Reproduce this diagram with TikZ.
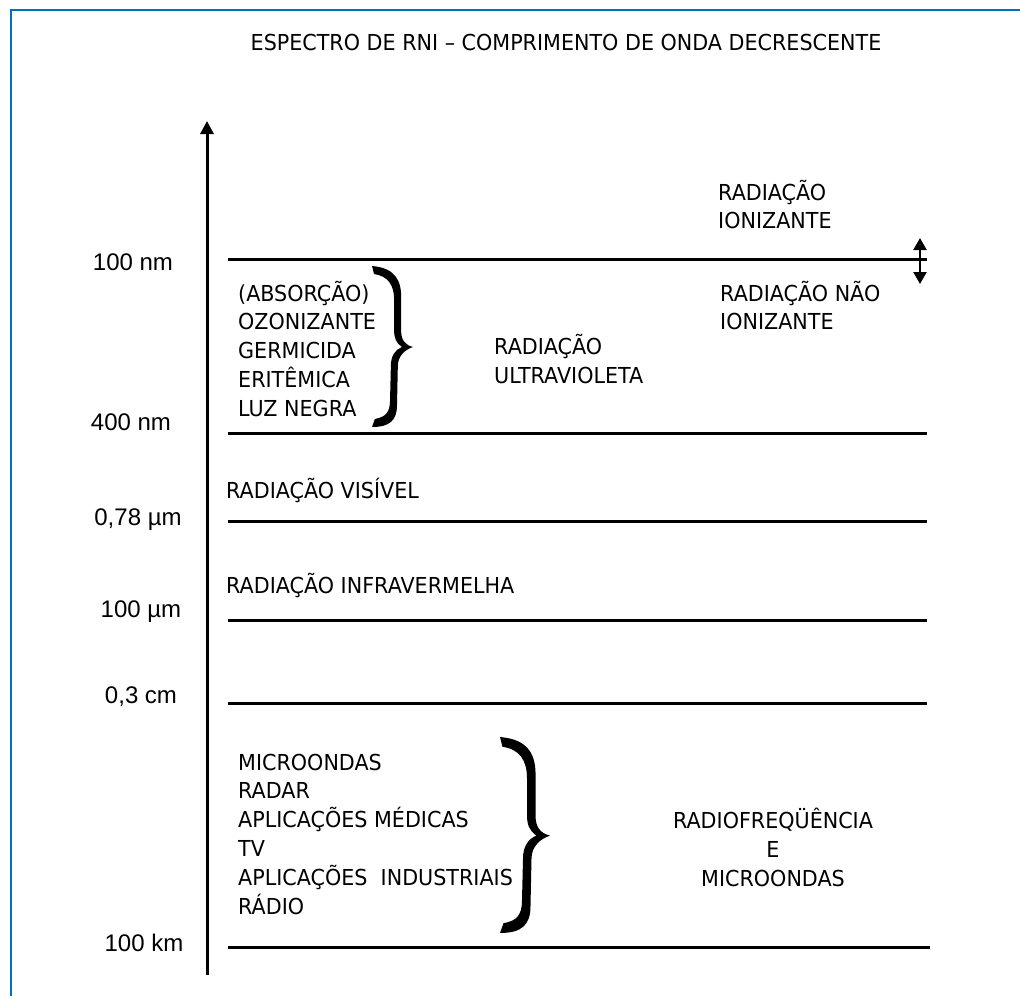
\documentclass[tikz,border=0pt]{standalone}
\usepackage{fontspec}
\setmainfont{DejaVu Sans}[FakeStretch=0.94]
\newfontfamily\numfont{Liberation Sans}
\usetikzlibrary{arrows.meta}
\definecolor{frameblue}{RGB}{0,112,192}
\newcommand{\bracepath}{%
  (0,0) .. controls (0.56,0.012) and (0.73,0.087) .. (0.71,0.211)
  -- (0.71,0.398)
  .. controls (0.71,0.46) and (0.80,0.49) .. (1.0,0.503)
  .. controls (0.80,0.52) and (0.63,0.56) .. (0.63,0.62)
  -- (0.61,0.863)
  .. controls (0.61,0.957) and (0.44,1.0) .. (0,1.0)
  -- (0.07,0.95)
  .. controls (0.34,0.938) and (0.44,0.907) .. (0.44,0.832)
  -- (0.46,0.62)
  .. controls (0.46,0.56) and (0.56,0.52) .. (0.73,0.503)
  .. controls (0.585,0.478) and (0.54,0.447) .. (0.54,0.398)
  -- (0.54,0.211)
  .. controls (0.54,0.118) and (0.39,0.062) .. (0.05,0.05)
  -- cycle}
\begin{document}
\begin{tikzpicture}[x=1pt,y=-1pt,
  lbl/.style={font=\fontsize{22}{29}\selectfont, anchor=base west, inner sep=0pt},
  lblc/.style={font=\fontsize{22}{29}\selectfont, anchor=base, inner sep=0pt},
  num/.style={font=\numfont\fontsize{24}{28}\selectfont, anchor=base, inner sep=0pt},
  band/.style={line width=3pt, black},
  axisline/.style={line width=3pt, -{Triangle[length=13pt,width=13pt]}},
  dbl/.style={line width=2.2pt, {Triangle[length=12pt,width=13pt]}-{Triangle[length=12pt,width=13pt]}},
  frame/.style={line width=2.5pt, frameblue},
  bracefill/.style={fill=black, draw=none}]
\useasboundingbox (0,0) rectangle (1020,996);
\fill[white] (0,0) rectangle (1020,996);
% frame
\coordinate (fb) at (11,996);
\coordinate (fc) at (11,10);
\coordinate (fr) at (1020,10);
\draw[frame] (fb) -- (fc) -- (fr);
% title
\node[lblc] (title) at (566,50) {ESPECTRO DE RNI – COMPRIMENTO DE ONDA DECRESCENTE};
% axis
\coordinate (axb) at (207,975);
\coordinate (axt) at (207,121);
\draw[axisline] (axb) -- (axt);
% horizontal lines
\coordinate (h1a) at (228,259); \coordinate (h1b) at (927,259);
\coordinate (h2a) at (228,433); \coordinate (h2b) at (927,433);
\coordinate (h3a) at (228,521); \coordinate (h3b) at (927,521);
\coordinate (h4a) at (228,620); \coordinate (h4b) at (927,620);
\coordinate (h5a) at (228,703); \coordinate (h5b) at (927,703);
\coordinate (h6a) at (228,947); \coordinate (h6b) at (930,947);
\draw[band] (h1a) -- (h1b);
\draw[band] (h2a) -- (h2b);
\draw[band] (h3a) -- (h3b);
\draw[band] (h4a) -- (h4b);
\draw[band] (h5a) -- (h5b);
\draw[band] (h6a) -- (h6b);
% double arrow
\coordinate (da) at (920,238);
\coordinate (db) at (920,284);
\draw[dbl] (da) -- (db);
% numbers
\node[num] (n1) at (133,270) {100 nm};
\node[num] (n2) at (131,430) {400 nm};
\node[num] (n3) at (138,525) {0,78 µm};
\node[num] (n4) at (141,617) {100 µm};
\node[num] (n5) at (141,703) {0,3 cm};
\node[num] (n6) at (144,951) {100 km};
% ionizante
\node[lbl] (ion1) at (718,200) {RADIAÇÃO};
\node[lbl] (ion2) at (718,228) {IONIZANTE};
\node[lbl] (nion1) at (720,301) {RADIAÇÃO NÃO};
\node[lbl] (nion2) at (720,329) {IONIZANTE};
% UV list
\node[lbl] (uv1) at (238,301) {(ABSORÇÃO)};
\node[lbl] (uv2) at (238,329) {OZONIZANTE};
\node[lbl] (uv3) at (238,358) {GERMICIDA};
\node[lbl] (uv4) at (238,387) {ERITÊMICA};
\node[lbl] (uv5) at (238,416) {LUZ NEGRA};
\begin{scope}[shift={(372,266)}, xscale=41, yscale=161]
\fill[bracefill] \bracepath;
\end{scope}
\node[lbl] (uvt1) at (494,354) {RADIAÇÃO};
\node[lbl] (uvt2) at (494,383) {ULTRAVIOLETA};
% visible, IR
\node[lbl] (vis) at (226,498) {RADIAÇÃO VISÍVEL};
\node[lbl] (ir) at (226,593) {RADIAÇÃO INFRAVERMELHA};
% RF list
\node[lbl] (rf1) at (238,770) {MICROONDAS};
\node[lbl] (rf2) at (238,798) {RADAR};
\node[lbl] (rf3) at (238,827) {APLICAÇÕES MÉDICAS};
\node[lbl] (rf4) at (238,856) {TV};
\node[lbl] (rf5) at (238,885) {APLICAÇÕES\ \ INDUSTRIAIS};
\node[lbl] (rf6) at (238,914) {RÁDIO};
\begin{scope}[shift={(500,737)}, xscale=50, yscale=196]
\fill[bracefill] \bracepath;
\end{scope}
\node[lblc] (rft1) at (773,828) {RADIOFREQÜÊNCIA};
\node[lblc] (rft2) at (773,857) {E};
\node[lblc] (rft3) at (773,886) {MICROONDAS};
\end{tikzpicture}
\end{document}
